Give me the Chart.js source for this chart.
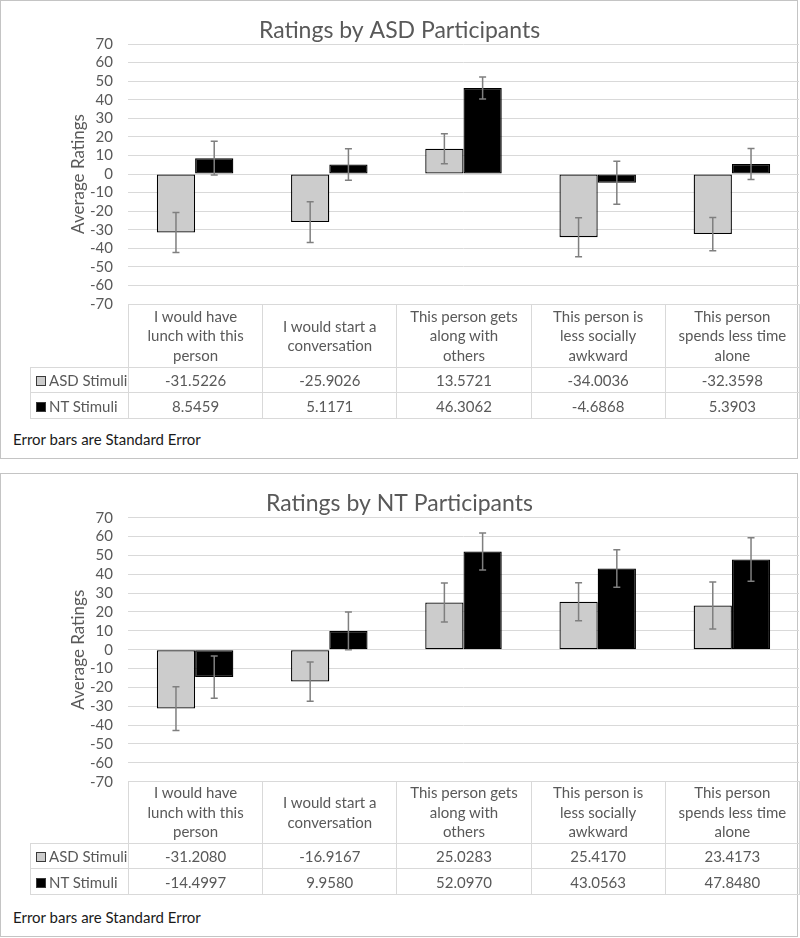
<!DOCTYPE html>
<html>
<head>
<meta charset="utf-8">
<script src="https://cdn.jsdelivr.net/npm/chart.js@4/dist/chart.umd.min.js"></script>
<style>
  body { margin: 0; background: #fff; width: 800px; height: 938px; position: relative; font-family: Lato, sans-serif; }
  .panel { position: absolute; left: 0; width: 796px; border: 1px solid #c4c4c4; }
  canvas { position: absolute; left: 0; }
  table.data { position: absolute; left: 30px; border-collapse: collapse; table-layout: fixed; color: #595959; font-size: 15px; }
  table.data td { border: 1px solid #d9d9d9; text-align: center; padding: 0; }
  table.data tr.head td { line-height: 19.5px; }
  table.data td.blank { border-top: none; border-left: none; }
  table.data td.key { text-align: left; padding-left: 5px; white-space: nowrap; }
  .sw { display: inline-block; width: 8px; height: 8px; border: 1px solid #3a3a3a; margin-right: 3px; vertical-align: 0px; }
  .note { position: absolute; left: 13px; font-size: 15px; color: #1a1a1a; }
</style>
</head>
<body>
<div class="panel" style="top:0px;height:457px"></div>
<div class="panel" style="top:473px;height:462px"></div>
<canvas id="c1" width="799" height="330" style="top:0px"></canvas>
<canvas id="c2" width="799" height="335" style="top:473px"></canvas>
<table class="data" id="t1" style="top:304px"></table>
<table class="data" id="t2" style="top:781px"></table>
<div class="note" style="top:430px">Error bars are Standard Error</div>
<div class="note" style="top:908px">Error bars are Standard Error</div>
<script>
// categories (table header lines)
const categoryLines = [
  ["I would have", "lunch with this", "person"],
  ["I would start a", "conversation"],
  ["This person gets", "along with", "others"],
  ["This person is", "less socially", "awkward"],
  ["This person", "spends less time", "alone"]
];
const seriesNames = ["ASD Stimuli", "NT Stimuli"];

// Ratings by ASD participants
const asdPartAsdStim = [-31.5226, -25.9026, 13.5721, -34.0036, -32.3598];
const asdPartNtStim = [8.5459, 5.1171, 46.3062, -4.6868, 5.3903];
const asdPartAsdSE = [10.8, 11.0, 8.1, 10.5, 8.9];
const asdPartNtSE = [9.1, 8.5, 5.9, 11.6, 8.4];

// Ratings by NT participants
const ntPartAsdStim = [-31.2080, -16.9167, 25.0283, 25.4170, 23.4173];
const ntPartNtStim = [-14.4997, 9.9580, 52.0970, 43.0563, 47.8480];
const ntPartAsdSE = [11.6, 10.4, 10.4, 10.1, 12.5];
const ntPartNtSE = [11.2, 10.0, 9.8, 10.0, 11.5];

const yMin = -70, yMax = 70, yStep = 10;
const fillColors = ["#cccccc", "#000000"];
const textGray = "#595959";

const errorBars = {
  id: "errorBars",
  afterDatasetsDraw(chart) {
    const ctx = chart.ctx;
    const y = chart.scales.y;
    ctx.save();
    ctx.strokeStyle = "#7f7f7f";
    ctx.lineWidth = 1.5;
    chart.data.datasets.forEach((ds, i) => {
      const meta = chart.getDatasetMeta(i);
      meta.data.forEach((bar, j) => {
        const v = ds.data[j], e = ds.errors[j];
        const top = y.getPixelForValue(v + e);
        const bot = y.getPixelForValue(v - e);
        ctx.beginPath();
        ctx.moveTo(bar.x, top); ctx.lineTo(bar.x, bot);
        ctx.moveTo(bar.x - 3.5, top); ctx.lineTo(bar.x + 3.5, top);
        ctx.moveTo(bar.x - 3.5, bot); ctx.lineTo(bar.x + 3.5, bot);
        ctx.stroke();
      });
    });
    ctx.restore();
  }
};

function makeChart(id, title, values, errors, plotTop, plotBottom) {
  const canvas = document.getElementById(id);
  const titleH = 23 * 1.2;
  return new Chart(canvas, {
    type: "bar",
    data: {
      labels: categoryLines.map((l) => l.join(" ")),
      datasets: values.map((vals, i) => ({
        label: seriesNames[i],
        data: vals,
        errors: errors[i],
        backgroundColor: fillColors[i],
        borderColor: "#000000",
        borderWidth: 1.3,
        borderSkipped: false,
        categoryPercentage: 0.57,
        barPercentage: 1.0
      }))
    },
    options: {
      responsive: false,
      animation: false,
      layout: {
        autoPadding: false,
        padding: { top: plotTop - titleH, left: 0, right: 0, bottom: canvas.height - plotBottom }
      },
      plugins: {
        legend: { display: false },
        tooltip: { enabled: false },
        title: {
          display: true,
          text: title,
          color: textGray,
          font: { family: "Lato", size: 23, weight: "normal" },
          padding: { top: 0, bottom: 0 }
        }
      },
      scales: {
        x: { display: false },
        y: {
          min: yMin,
          max: yMax,
          afterFit(scale) { scale.width = 128; },
          ticks: { stepSize: yStep, autoSkip: false, padding: 15, color: textGray, font: { family: "Lato", size: 15 } },
          grid: { color: "#d9d9d9", lineWidth: 1, drawTicks: false },
          border: { display: false },
          title: {
            display: true,
            text: "Average Ratings",
            color: textGray,
            font: { family: "Lato", size: 17 },
            padding: { top: 68, bottom: 0 }
          }
        }
      }
    },
    plugins: [errorBars]
  });
}

function makeTable(id, values, headH, rowHs) {
  const t = document.getElementById(id);
  const colW = 134.2;
  let html = '<colgroup><col style="width:98px">' + categoryLines.map(() => `<col style="width:${colW}px">`).join("") + "</colgroup>";
  html += `<tr class="head" style="height:${headH}px"><td class="blank"></td>` +
    categoryLines.map((l) => `<td>${l.join("<br>")}</td>`).join("") + "</tr>";
  values.forEach((vals, i) => {
    html += `<tr style="height:${rowHs[i]}px"><td class="key"><span class="sw" style="background:${fillColors[i]}"></span>${seriesNames[i]}</td>` +
      vals.map((v) => `<td>${v.toFixed(4)}</td>`).join("") + "</tr>";
  });
  t.innerHTML = html;
}

makeChart("c1", "Ratings by ASD Participants", [asdPartAsdStim, asdPartNtStim], [asdPartAsdSE, asdPartNtSE], 44, 304);
makeChart("c2", "Ratings by NT Participants", [ntPartAsdStim, ntPartNtStim], [ntPartAsdSE, ntPartNtSE], 44.7, 308.7);
makeTable("t1", [asdPartAsdStim, asdPartNtStim], 63, [25, 26]);
makeTable("t2", [ntPartAsdStim, ntPartNtStim], 62, [25, 26]);
</script>
</body>
</html>
